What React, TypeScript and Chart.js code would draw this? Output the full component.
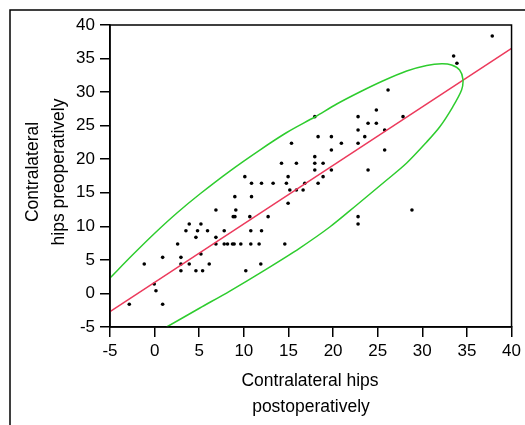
import React, { useEffect, useRef } from "react";
import { Chart, registerables } from "chart.js";

Chart.register(...registerables);

// Scatter points (postoperative x, preoperative y)
const pointsX = [
  37.84, 33.51, 33.88, 26.16, 24.85,
  17.95, 22.8, 27.84,
  23.92, 24.85,
  22.8, 25.78,
  18.32, 19.81, 23.55,
  15.34, 20.93, 22.8,
  19.81, 25.78,
  17.95,
  14.22, 15.89, 17.95, 18.88,
  17.95, 19.81, 23.92,
  10.11, 14.96, 18.88,
  10.86, 11.98, 13.28, 14.77, 16.83, 18.32,
  15.15, 15.89, 16.64,
  8.99, 10.86,
  14.96,
  6.87, 9.1, 28.84,
  8.81, 9.0, 10.67, 12.72, 22.8,
  3.88, 5.19, 22.8,
  3.51, 4.81, 5.93, 7.8, 10.78, 11.98,
  4.63, 6.87,
  2.58, 6.87, 7.8, 8.17, 8.73, 8.91, 9.66, 10.78, 11.71, 14.59,
  5.19,
  0.9, 2.95,
  -1.16, 2.95, 3.88, 6.12, 11.9,
  2.95, 4.63, 5.38, 10.22,
  -0.04,
  0.15,
  -2.84, 0.9,
];
const pointsY = [
  38.36, 35.38, 34.29, 30.31, 27.33,
  26.34, 26.34, 26.34,
  25.35, 25.35,
  24.35, 24.35,
  23.36, 23.36, 23.36,
  22.37, 22.37, 22.37,
  21.37, 21.37,
  20.38,
  19.39, 19.39, 19.39, 19.39,
  18.39, 18.39, 18.39,
  17.4, 17.4, 17.4,
  16.41, 16.41, 16.41, 16.41, 16.41, 16.41,
  15.41, 15.41, 15.41,
  14.42, 14.42,
  13.43,
  12.43, 12.43, 12.43,
  11.44, 11.44, 11.44, 11.44, 11.44,
  10.35, 10.35, 10.35,
  9.35, 9.35, 9.35, 9.35, 9.35, 9.35,
  8.36, 8.36,
  7.37, 7.37, 7.37, 7.37, 7.37, 7.37, 7.37, 7.37, 7.37, 7.37,
  5.88,
  5.38, 5.38,
  4.39, 4.39, 4.39, 4.39, 4.39,
  3.39, 3.39, 3.39, 3.39,
  1.4,
  0.41,
  -1.62, -1.62,
];

// Fit line (read at the plot edges)
const fitX = [-5, 40];
const fitY = [-2.72, 36.53];

// Ellipse outline (upper arc, tip, lower arc)
const ellipseX = [
  -5, -2.54, 0.04, 2.5, 5.07, 8.43, 11.79, 14.81, 17.95, 20.41, 22.99, 25.56,
  28.25, 30.49, 32.17, 33.28, 34.18, 34.55, 34.4, 33.4, 31.94, 30.49, 28.25,
  26.01, 22.65, 19.63, 16.27, 12.35, 8.43, 5.07, 1.35,
];
const ellipseY = [
  2.3, 5.65, 9.01, 11.99, 14.82, 18.24, 21.37, 23.98, 26.29, 28.23, 30.02, 31.66,
  33.15, 33.97, 34.23, 34.04, 33.29, 31.91, 30.31, 27.78, 24.8, 22.57, 19.44,
  16.9, 13.18, 9.9, 6.77, 3.49, 0.36, -2.17, -5.0,
];

const axisMin = -5;
const axisMax = 40;
const axisStep = 5;

const xTitle = ["Contralateral hips", "postoperatively"];
const yTitle = ["Contralateral", "hips preoperatively"];

const FONT = '"Liberation Sans", Arial, sans-serif';

export default function App() {
  const ref = useRef<HTMLCanvasElement | null>(null);

  useEffect(() => {
    if (!ref.current) return;
    const toXY = (xs: number[], ys: number[]) => xs.map((x, i) => ({ x, y: ys[i] }));

    const decor = {
      id: "decor",
      afterDraw(chart: any) {
        const { ctx, chartArea } = chart;
        ctx.save();
        ctx.strokeStyle = "#000";
        ctx.lineWidth = 1.5;
        ctx.strokeRect(chartArea.left, chartArea.top, chartArea.right - chartArea.left, chartArea.bottom - chartArea.top);
        ctx.beginPath();
        ctx.moveTo(10, 425);
        ctx.lineTo(10, 10);
        ctx.lineTo(525, 10);
        ctx.stroke();
        ctx.fillStyle = "#000";
        ctx.font = `17.5px ${FONT}`;
        ctx.textAlign = "center";
        ctx.textBaseline = "middle";
        ctx.fillText(xTitle[0], 310, 381);
        ctx.fillText(xTitle[1], 311, 407);
        ctx.translate(0, 172);
        ctx.rotate(-Math.PI / 2);
        ctx.fillText(yTitle[0], 0, 33);
        ctx.fillText(yTitle[1], 0, 59);
        ctx.restore();
      },
    };

    const tickCommon = {
      stepSize: axisStep,
      color: "#000",
      font: { family: FONT, size: 17 },
      autoSkip: false,
      maxRotation: 0,
    };
    const gridCommon = {
      drawOnChartArea: false,
      drawTicks: true,
      tickLength: 10,
      color: "#000",
      lineWidth: 1.5,
    };

    const chart = new Chart(ref.current, {
      type: "scatter",
      data: {
        datasets: [
          {
            label: "ellipse",
            data: toXY(ellipseX, ellipseY),
            showLine: true,
            borderColor: "#2ecc2e",
            borderWidth: 1.5,
            pointRadius: 0,
            tension: 0.3,
            fill: false,
          },
          {
            label: "fit",
            data: toXY(fitX, fitY),
            showLine: true,
            borderColor: "#ec3a5c",
            borderWidth: 1.5,
            pointRadius: 0,
          },
          {
            label: "points",
            data: toXY(pointsX, pointsY),
            backgroundColor: "#000",
            borderColor: "#000",
            borderWidth: 0,
            pointRadius: 1.8,
          },
        ],
      },
      options: {
        animation: false,
        responsive: true,
        maintainAspectRatio: false,
        layout: { padding: { left: 0, top: 25, right: 13, bottom: 0 } },
        plugins: { legend: { display: false }, tooltip: { enabled: false } },
        scales: {
          x: {
            type: "linear",
            min: axisMin,
            max: axisMax,
            ticks: { ...tickCommon, padding: 4 },
            grid: gridCommon,
            border: { display: true, color: "#000", width: 1.5 },
            afterFit(scale: any) {
              scale.height = 98;
            },
          },
          y: {
            type: "linear",
            min: axisMin,
            max: axisMax,
            ticks: { ...tickCommon, padding: 5 },
            grid: gridCommon,
            border: { display: true, color: "#000", width: 1.5 },
            afterFit(scale: any) {
              scale.width = 110;
            },
          },
        },
      },
      plugins: [decor],
    } as any);
    return () => chart.destroy();
  }, []);

  return (
    <div style={{ position: "fixed", left: 0, top: 0, width: 525, height: 425, background: "#fff" }}>
      <canvas ref={ref} />
    </div>
  );
}
